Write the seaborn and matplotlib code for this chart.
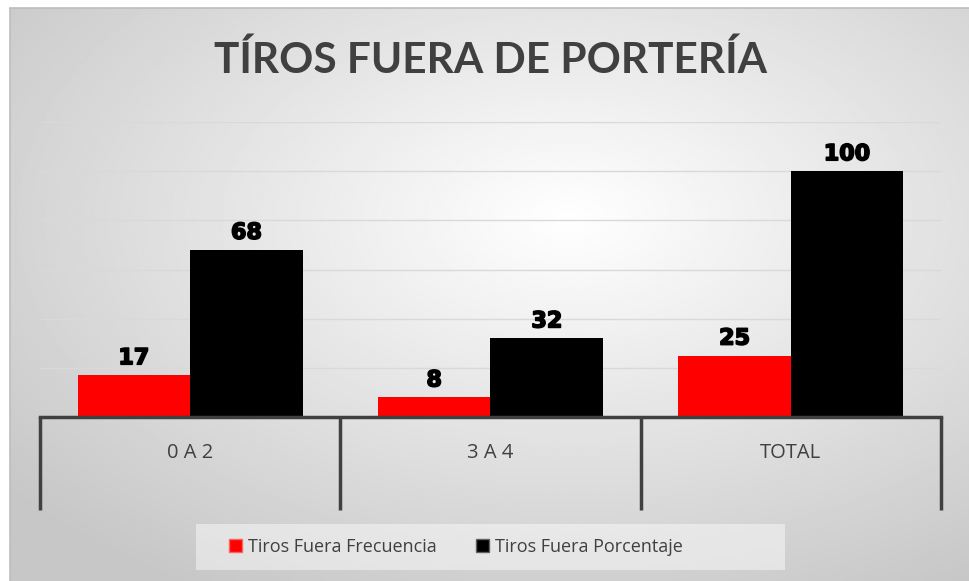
import numpy as np
import pandas as pd
import matplotlib
matplotlib.use("Agg")
import matplotlib.pyplot as plt
import matplotlib.patheffects as pe
import seaborn as sns

categories = ["0 A 2", "3 A 4", "TOTAL"]
frecuencia = [17, 8, 25]
porcentaje = [68, 32, 100]
series_names = ["Tiros Fuera Frecuencia", "Tiros Fuera Porcentaje"]
title = "TÍROS FUERA DE PORTERÍA"

sns.set_style("white")
plt.rcParams['font.family'] = ['Open Sans', 'DejaVu Sans']

df = pd.DataFrame({
    "categoria": categories * 2,
    "serie": [series_names[0]] * 3 + [series_names[1]] * 3,
    "valor": frecuencia + porcentaje,
})

W, H = 970, 581
fig = plt.figure(figsize=(W / 100, H / 100), dpi=100)
fig.patch.set_facecolor("white")

# radial gradient background of the chart area
bg = fig.add_axes([10 / W, 0, (W - 10) / W, (H - 8) / H], zorder=-5)
yy, xx = np.mgrid[0:300, 0:500]
cx, cy = 290, 110
r = np.sqrt(((xx - cx) / 500) ** 2 + ((yy - cy) / 300) ** 2)
r = np.clip(r / 0.75, 0, 1)
shade = 1.0 - 0.22 * r
bg.imshow(shade, cmap="gray", vmin=0, vmax=1, aspect="auto",
          extent=[0, 1, 0, 1], origin="upper")
bg.set_axis_off()
fig.add_artist(plt.Line2D([10 / W, 1], [1 - 8 / H, 1 - 8 / H], color="#bdbdbd", lw=1.2))
fig.add_artist(plt.Line2D([10 / W, 10 / W], [0, 1 - 8 / H], color="#bdbdbd", lw=1.2))

ax = fig.add_axes([40 / W, 1 - 417 / H, (941 - 40) / W, (417 - 122) / H])
ax.set_facecolor("none")

sns.barplot(data=df, x="categoria", y="valor", hue="serie",
            palette=["#ff0000", "#000000"], width=0.75, gap=0,
            saturation=1, linewidth=0, ax=ax, legend=False)

for cont in ax.containers:
    labels = ax.bar_label(cont, padding=5, fontsize=16, fontweight="bold",
                          family="DejaVu Sans", color="black")
    for t in labels:
        t.set_path_effects([pe.withStroke(linewidth=1.2, foreground="black")])

ax.set_ylim(0, 120)
ax.set_xlim(-0.5, 2.5)
ax.set_yticks(range(0, 121, 20))
ax.set_yticklabels([])
ax.yaxis.grid(True, color="#d9d9d9", lw=1)
ax.set_axisbelow(True)
ax.tick_params(axis="y", length=0)
for s in ["left", "right", "top"]:
    ax.spines[s].set_visible(False)
ax.spines["bottom"].set_color("#404040")
ax.spines["bottom"].set_linewidth(2.5)
ax.set_xlabel("")
ax.set_ylabel("")

# category separators hanging below the axis
ax.set_xticks([-0.5, 0.5, 1.5, 2.5], minor=True)
ax.tick_params(axis="x", which="minor", bottom=True, length=67, width=2.5,
               color="#404040", direction="out")
ax.tick_params(axis="x", which="major", bottom=False, length=0, pad=19,
               labelsize=14.5, labelcolor="#404040")

fig.text(491 / W, 1 - 60 / H, title, ha="center", va="center", family="Lato",
         fontsize=30.5, fontweight="bold", color="#404040")

# legend box
fig.add_artist(plt.Rectangle((196 / W, 1 - 570 / H), (785 - 196) / W, 46 / H,
                             transform=fig.transFigure, facecolor="white",
                             alpha=0.45, edgecolor="none"))
handles = [plt.Rectangle((0, 0), 1, 1, facecolor="#ff0000", edgecolor="#ff6060", lw=1),
           plt.Rectangle((0, 0), 1, 1, facecolor="#000000", edgecolor="#606060", lw=1)]
leg = fig.legend(handles, series_names, loc="center", bbox_to_anchor=(456 / W, 1 - 547 / H),
                 ncol=2, frameon=False, fontsize=13, handlelength=0.7, handleheight=0.7,
                 handletextpad=0.35, columnspacing=2.2, labelcolor="#404040")

fig.savefig("out.png", dpi=100)
